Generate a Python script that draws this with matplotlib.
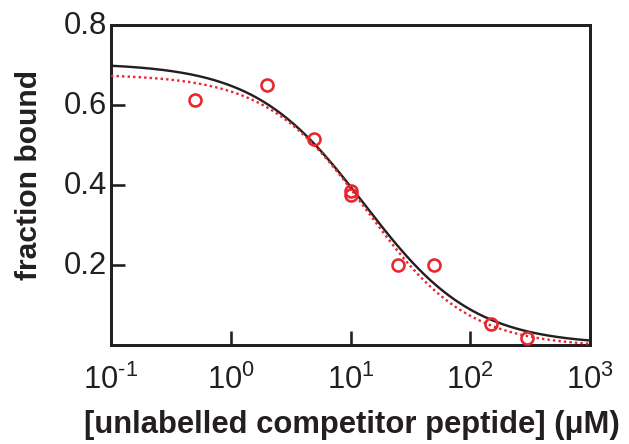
"""Competition binding curve: fraction bound vs competitor peptide concentration."""

import matplotlib
matplotlib.use("Agg")
import matplotlib.pyplot as plt
import matplotlib.transforms as mtransforms
import numpy as np

# measured points
conc_uM = [0.5, 2.0, 5.0, 10.0, 10.0, 25.0, 50.0, 150.0, 300.0]
frac_bound = [0.612, 0.650, 0.515, 0.385, 0.375, 0.200, 0.200, 0.052, 0.017]

# fitted curve parameters (top, bottom, IC50, Hill slope)
fit_black = [0.705, 0.0, 13.0, 0.95]
fit_red = [0.677, -0.005, 13.7, 1.03]

x_ticks = [0.1, 1, 10, 100, 1000]
x_ticklabels = [r"$10^{\text{-}1}$", r"$10^{0}$", r"$10^{1}$", r"$10^{2}$", r"$10^{3}$"]
y_ticks = [0.2, 0.4, 0.6, 0.8]
y_ticklabels = ["0.2", "0.4", "0.6", "0.8"]

RED = "#e8262d"
INK = "#231f20"

plt.rcParams["font.family"] = ["Liberation Sans", "DejaVu Sans"]
plt.rcParams["mathtext.fontset"] = "custom"
plt.rcParams["mathtext.rm"] = "Liberation Sans"
plt.rcParams["mathtext.it"] = "Liberation Sans:italic"


def hill(x, p):
    top, bottom, ic50, h = p
    return bottom + (top - bottom) / (1 + (x / ic50) ** h)


W, H, DPI = 629, 444, 72
fig = plt.figure(figsize=(W / DPI, H / DPI), dpi=DPI)
ax = fig.add_axes([111 / W, (H - 345) / H, 479 / W, 320 / H])

xs = np.logspace(-1, 3, 400)
ax.plot(xs, hill(xs, fit_black), color=INK, lw=2.4, zorder=2)
ax.plot(xs, hill(xs, fit_red), color=RED, lw=2.4, ls=(0, (1, 1.3)), zorder=3)
ax.plot(conc_uM, frac_bound, "o", mfc="none", mec=RED, mew=2.6, ms=12, zorder=4,
        clip_on=False)

ax.set_xscale("log")
ax.set_xlim(0.1, 1000)
ax.set_ylim(0, 0.8)
ax.set_xticks(x_ticks)
ax.set_xticklabels(x_ticklabels)
ax.xaxis.set_minor_locator(matplotlib.ticker.NullLocator())
ax.set_yticks(y_ticks)
ax.set_yticklabels(y_ticklabels)

for s in ax.spines.values():
    s.set_linewidth(3)
    s.set_color(INK)
ax.tick_params(direction="in", length=14, width=2.6, color=INK,
               labelsize=31, labelcolor=INK)
ax.tick_params(axis="y", pad=4)
ax.tick_params(axis="x", pad=20)

# y tick labels sit a little above their ticks in the original
shift = mtransforms.ScaledTranslation(0, 3 / DPI, fig.dpi_scale_trans)
for lbl in ax.get_yticklabels():
    lbl.set_transform(lbl.get_transform() + shift)

fig.text(352 / W, (H - 433) / H, "[unlabelled competitor peptide] (\u03bcM)",
         fontsize=31, fontweight="bold", color=INK, ha="center", va="baseline")
fig.text(37 / W, (H - 175) / H, "fraction bound", fontsize=30, fontweight="bold",
         color=INK, rotation=90, rotation_mode="anchor", ha="center", va="baseline")

fig.savefig("out.png", dpi=DPI)
